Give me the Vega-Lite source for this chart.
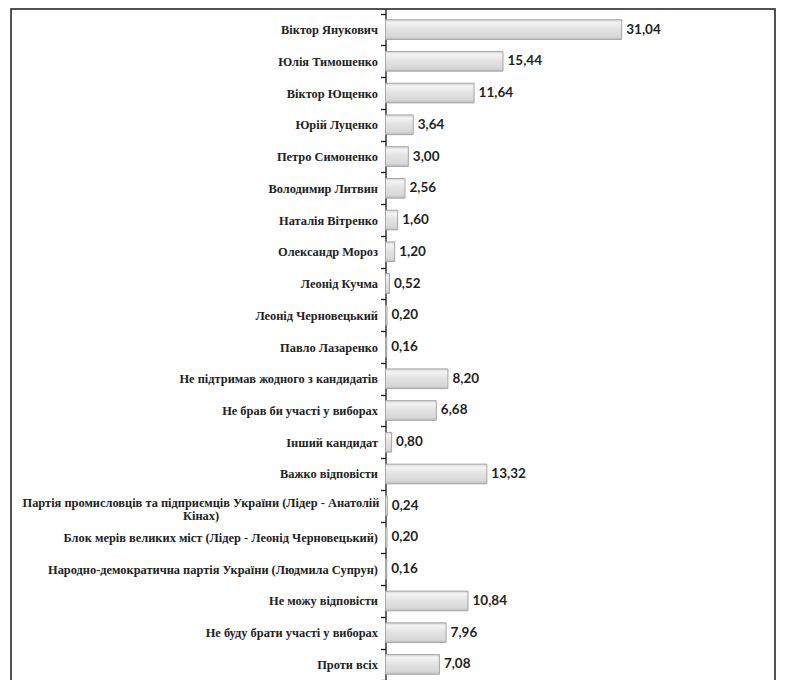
{
  "$schema": "https://vega.github.io/schema/vega-lite/v6.json",
  "width": 764,
  "height": 676,
  "padding": {"left": 11, "top": 3, "right": 10, "bottom": 0},
  "background": "white",
  "config": {
    "view": {"stroke": "#1a1a1a", "strokeWidth": 1.5}
  },
  "data": {
    "values": [
      {"name": "Віктор Янукович", "value": 31.04, "label": "31,04"},
      {"name": "Юлія Тимошенко", "value": 15.44, "label": "15,44"},
      {"name": "Віктор Ющенко", "value": 11.64, "label": "11,64"},
      {"name": "Юрій Луценко", "value": 3.64, "label": "3,64"},
      {"name": "Петро Симоненко", "value": 3.00, "label": "3,00"},
      {"name": "Володимир Литвин", "value": 2.56, "label": "2,56"},
      {"name": "Наталія Вітренко", "value": 1.60, "label": "1,60"},
      {"name": "Олександр Мороз", "value": 1.20, "label": "1,20"},
      {"name": "Леонід Кучма", "value": 0.52, "label": "0,52"},
      {"name": "Леонід Черновецький", "value": 0.20, "label": "0,20"},
      {"name": "Павло Лазаренко", "value": 0.16, "label": "0,16"},
      {"name": "Не підтримав жодного з кандидатів", "value": 8.20, "label": "8,20"},
      {"name": "Не брав би участі у виборах", "value": 6.68, "label": "6,68"},
      {"name": "Інший кандидат", "value": 0.80, "label": "0,80"},
      {"name": "Важко відповісти", "value": 13.32, "label": "13,32"},
      {"name": "Партія промисловців та підприємців України (Лідер - Анатолій\nКінах)", "value": 0.24, "label": "0,24"},
      {"name": "Блок мерів великих міст (Лідер - Леонід Черновецький)", "value": 0.20, "label": "0,20"},
      {"name": "Народно-демократична партія України (Людмила Супрун)", "value": 0.16, "label": "0,16"},
      {"name": "Не можу відповісти", "value": 10.84, "label": "10,84"},
      {"name": "Не буду брати участі у виборах", "value": 7.96, "label": "7,96"},
      {"name": "Проти всіх", "value": 7.08, "label": "7,08"}
    ]
  },
  "encoding": {
    "y": {
      "field": "name",
      "type": "nominal",
      "sort": null,
      "scale": {"paddingInner": 0, "paddingOuter": 0.148},
      "axis": {
        "title": null,
        "offset": -374.5,
        "tickBand": "extent",
        "tickSize": 5,
        "tickColor": "#1a1a1a",
        "tickWidth": 1.3,
        "domainColor": "#1a1a1a",
        "domainWidth": 1.3,
        "labelExpr": "isString(datum.value) ? split(datum.value, '\\n') : ''",
        "labelFont": "Liberation Serif",
        "labelFontWeight": "bold",
        "labelFontSize": 12.4,
        "labelColor": "#222222",
        "labelLimit": 0,
        "labelLineHeight": 13,
        "labelOffset": {"condition": {"test": "isString(datum.value) && indexof(datum.value, 'Кінах') >= 0", "value": -3}, "value": 0},
        "labelPadding": {"condition": {"test": "isString(datum.value) && indexof(datum.value, 'Кінах') >= 0", "value": 180}, "value": 3},
        "labelAlign": {"condition": {"test": "isString(datum.value) && indexof(datum.value, 'Кінах') >= 0", "value": "center"}, "value": "right"}
      }
    }
  },
  "layer": [
    {
      "mark": {
        "type": "bar",
        "height": {"band": 0.62},
        "stroke": "#a6a6a6",
        "strokeWidth": 1,
        "fill": {
          "gradient": "linear",
          "x1": 0, "y1": 0, "x2": 0, "y2": 1,
          "stops": [
            {"offset": 0, "color": "#d4d4d4"},
            {"offset": 0.15, "color": "#f3f3f3"},
            {"offset": 0.5, "color": "#e2e2e2"},
            {"offset": 0.85, "color": "#d8d8d8"},
            {"offset": 1, "color": "#bdbdbd"}
          ]
        }
      },
      "encoding": {
        "x": {
          "field": "value",
          "type": "quantitative",
          "scale": {"domain": [-49.21, 51.18], "nice": false, "zero": false},
          "axis": null
        },
        "x2": {"datum": 0}
      }
    },
    {
      "mark": {
        "type": "text",
        "align": "left",
        "baseline": "middle",
        "dx": 4.5,
        "font": "Lato",
        "fontWeight": "bold",
        "fontSize": 13.5,
        "color": "#1f1f1f"
      },
      "encoding": {
        "x": {"field": "value", "type": "quantitative"},
        "text": {"field": "label", "type": "nominal"}
      }
    }
  ]
}
